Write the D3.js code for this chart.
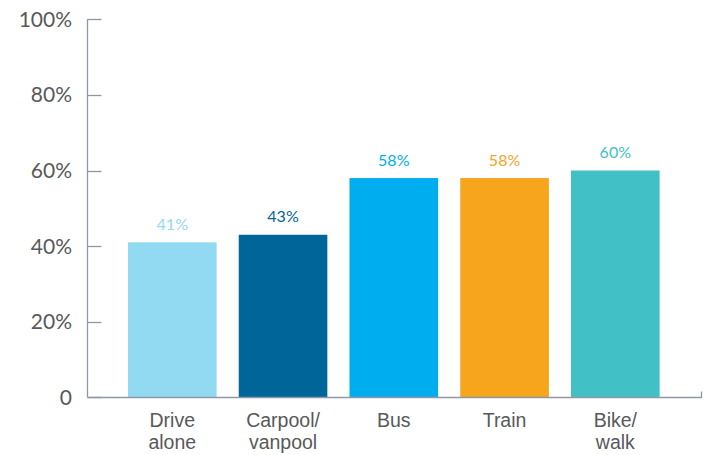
<!DOCTYPE html>
<html>
<head>
<meta charset="utf-8">
<script src="https://cdn.jsdelivr.net/npm/d3@7"></script>
<style>
  html, body { margin: 0; padding: 0; background: #fff; }
  svg { display: block; }
</style>
</head>
<body>
<svg id="chart" width="711" height="455"></svg>
<script>
// Share of commuters by travel mode
const categories = [["Drive", "alone"], ["Carpool/", "vanpool"], ["Bus"], ["Train"], ["Bike/", "walk"]];
const values = [41, 43, 58, 58, 60];
const colors = ["#92d9f2", "#00669a", "#00aeef", "#f6a51d", "#41c0c6"];
const tickValues = [0, 20, 40, 60, 80, 100];
const tickLabels = ["0", "20%", "40%", "60%", "80%", "100%"];

const svg = d3.select("#chart");
const axisColor = "#8e97a6";
const textColor = "#58595b";

const keys = categories.map((c, i) => i);
const x = d3.scaleBand().domain(keys).range([116.9, 670.7]).paddingInner(0.2).paddingOuter(0.1);
const y = d3.scaleLinear().domain([0, 100]).range([397.3, 19.3]);

const axisX = 87.5;

// vertical axis
svg.append("line")
  .attr("x1", axisX).attr("x2", axisX)
  .attr("y1", y(100)).attr("y2", y(0))
  .attr("stroke", axisColor).attr("stroke-width", 1.3);

// ticks and labels
const ticks = svg.append("g");
tickValues.forEach((v, i) => {
  ticks.append("line")
    .attr("x1", axisX).attr("x2", 101.5)
    .attr("y1", Math.round(y(v)) + 0.5).attr("y2", Math.round(y(v)) + 0.5)
    .attr("stroke", axisColor).attr("stroke-width", 1.3);
  ticks.append("text")
    .attr("x", 72).attr("y", y(v))
    .attr("dy", "0.36em")
    .attr("text-anchor", "end")
    .attr("font-family", "Lato, 'Open Sans', sans-serif")
    .attr("font-size", 21)
    .attr("fill", textColor)
    .text(tickLabels[i]);
});

// bars
svg.append("g").selectAll("rect")
  .data(values)
  .join("rect")
  .attr("x", (d, i) => x(i))
  .attr("width", x.bandwidth())
  .attr("y", d => y(d))
  .attr("height", d => y(0) - y(d))
  .attr("fill", (d, i) => colors[i]);

// value labels
svg.append("g").selectAll("text")
  .data(values)
  .join("text")
  .attr("x", (d, i) => x(i) + x.bandwidth() / 2)
  .attr("y", d => y(d) - 12.5)
  .attr("text-anchor", "middle")
  .attr("font-family", "Lato, 'Open Sans', sans-serif")
  .attr("font-size", 16)
  .attr("fill", (d, i) => colors[i])
  .text(d => d + "%");

// baseline with a small end cap
const baseY = Math.round(y(0)) + 0.5;
svg.append("path")
  .attr("d", `M${axisX},${baseY}H701.5V${baseY - 6}`)
  .attr("fill", "none")
  .attr("stroke", axisColor).attr("stroke-width", 1.3);

// category labels
const cat = svg.append("g");
categories.forEach((lines, i) => {
  const t = cat.append("text")
    .attr("text-anchor", "middle")
    .attr("font-family", "'Liberation Sans', Arial, sans-serif")
    .attr("font-size", 19.5)
    .attr("fill", textColor);
  lines.forEach((ln, j) => {
    t.append("tspan")
      .attr("x", x(i) + x.bandwidth() / 2)
      .attr("y", 427 + j * 21.5)
      .text(ln);
  });
});
</script>
</body>
</html>
